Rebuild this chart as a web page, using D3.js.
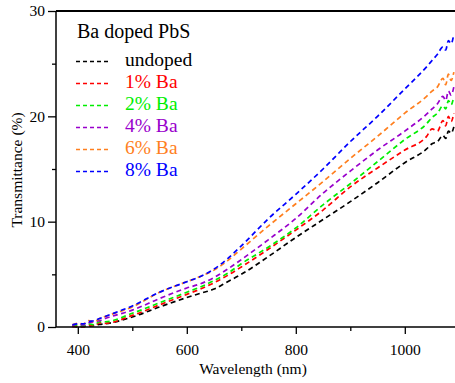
<!DOCTYPE html>
<html>
<head>
<meta charset="utf-8">
<script src="https://cdn.jsdelivr.net/npm/d3@7"></script>
<style>
  html, body { margin: 0; padding: 0; background: #fff; }
  svg { display: block; }
</style>
</head>
<body>
<svg id="chart" width="455" height="383"></svg>
<script>
const wavelengths = [390, 400, 410, 420, 430, 440, 450, 500, 550, 600, 625, 650, 675, 700, 750, 800, 850, 900, 950, 1000, 1040, 1050, 1060, 1070, 1075, 1080, 1085, 1090];

const undoped = [0.1, 0.0, 0.05, 0.1, 0.15, 0.25, 0.3, 0.95, 1.9, 2.8, 3.2, 3.6, 4.3, 5.0, 6.7, 8.5, 10.2, 11.9, 13.7, 15.6, 16.9, 17.4, 17.6, 18.2, 17.9, 18.6, 18.4, 19.0];
const ba1 = [0.0, 0.1, 0.0, 0.2, 0.1, 0.4, 0.35, 1.1, 2.1, 3.1, 3.6, 4.2, 4.9, 5.7, 7.4, 9.2, 11.1, 13.3, 15.1, 16.8, 18.1, 18.8, 18.6, 19.6, 19.1, 20.0, 19.5, 20.3];
const ba2 = [0.1, 0.2, 0.1, 0.3, 0.2, 0.5, 0.5, 1.3, 2.3, 3.3, 3.8, 4.4, 5.1, 6.0, 7.6, 9.4, 11.6, 13.6, 15.7, 17.8, 19.3, 19.9, 20.3, 21.0, 20.7, 21.5, 21.1, 21.9];
const ba4 = [0.1, 0.3, 0.2, 0.4, 0.5, 0.6, 0.8, 1.6, 2.7, 3.7, 4.1, 4.7, 5.5, 6.4, 8.3, 10.3, 12.7, 14.8, 16.8, 18.6, 20.2, 20.7, 21.2, 21.9, 21.5, 22.4, 22.0, 22.8];
const ba6 = [0.2, 0.35, 0.3, 0.6, 0.5, 0.8, 1.0, 1.9, 3.3, 4.3, 4.8, 5.4, 6.3, 7.4, 9.6, 11.7, 13.8, 16.0, 18.1, 20.3, 21.9, 22.4, 22.8, 23.6, 23.0, 24.0, 23.4, 24.2];
const ba8 = [0.2, 0.3, 0.3, 0.5, 0.6, 0.8, 1.0, 2.0, 3.3, 4.3, 4.8, 5.5, 6.5, 7.7, 10.3, 12.6, 15.0, 17.6, 20.0, 22.6, 24.7, 25.3, 25.9, 26.6, 26.3, 27.2, 26.9, 27.8];

const seriesNames = ["undoped", "1% Ba", "2% Ba", "4% Ba", "6% Ba", "8% Ba"];
const seriesColors = ["#000000", "#ff0000", "#00ee00", "#9900cc", "#ff7f1e", "#0000ff"];
const seriesValues = [undoped, ba1, ba2, ba4, ba6, ba8];

const xMajorTicks = [400, 600, 800, 1000];
const xMinorTicks = [500, 700, 900];
const yMajorTicks = [0, 10, 20, 30];
const yMinorTicks = [5, 15, 25];

const legendTitle = "Ba doped PbS";
const xTitle = "Wavelength (nm)";
const yTitle = "Transmittance (%)";

const FONT = '"Liberation Serif", "Times New Roman", serif';

const svg = d3.select("#chart");
const padL = 56, padT = 11, padB = 327;
const x = d3.scaleLinear().domain([360, 1100]).range([padL, 459.3]);
const y = d3.scaleLinear().domain([0, 30]).range([padB, padT]);

// data lines
const line = d3.line()
  .x(d => x(d[0]))
  .y(d => y(d[1]))
  .curve(d3.curveMonotoneX);

const plot = svg.append("g");
seriesValues.forEach((vals, i) => {
  const pts = wavelengths.map((w, j) => [w, vals[j]]);
  plot.append("path")
    .attr("d", line(pts))
    .attr("fill", "none")
    .attr("stroke", seriesColors[i])
    .attr("stroke-width", 1.7)
    .attr("stroke-dasharray", "5,3.5");
});

// axes
const xAxis = d3.axisBottom(x).tickValues(xMajorTicks).tickSize(7).tickPadding(10).tickFormat(d3.format("d"));
const xAxisMinor = d3.axisBottom(x).tickValues(xMinorTicks).tickSize(4).tickFormat("");
const yAxis = d3.axisLeft(y).tickValues(yMajorTicks).tickSize(8).tickPadding(3).tickFormat(d3.format("d"));
const yAxisMinor = d3.axisLeft(y).tickValues(yMinorTicks).tickSize(4).tickFormat("");

function styleAxis(g) {
  g.attr("font-family", FONT).attr("font-size", 15.5);
  g.select(".domain").attr("stroke", "#000").attr("stroke-width", 1.5);
  g.selectAll(".tick line").attr("stroke", "#000").attr("stroke-width", 1.3);
  g.selectAll(".tick text").attr("fill", "#000");
}

svg.append("g").attr("transform", `translate(0,${padB})`).call(xAxisMinor).call(g => { g.select(".domain").remove(); styleAxis(g); });
svg.append("g").attr("transform", `translate(0,${padB})`).call(xAxis).call(g => { styleAxis(g); g.select(".domain").attr("d", `M${padL},0H455`); });
svg.append("g").attr("transform", `translate(${padL},0)`).call(yAxisMinor).call(g => { g.select(".domain").remove(); styleAxis(g); });
svg.append("g").attr("transform", `translate(${padL},0)`).call(yAxis).call(g => { styleAxis(g); g.select(".domain").attr("d", `M0,${padB}V${padT}`); });

// top frame line
svg.append("line").attr("x1", padL).attr("x2", 455).attr("y1", padT).attr("y2", padT)
  .attr("stroke", "#000").attr("stroke-width", 1.8);

// axis titles
svg.append("text").attr("x", 253).attr("y", 374).attr("text-anchor", "middle")
  .attr("font-family", FONT).attr("font-size", 15.5).attr("fill", "#000").text(xTitle);
svg.append("text").attr("transform", "translate(22,170) rotate(-90)").attr("text-anchor", "middle")
  .attr("font-family", FONT).attr("font-size", 15.5).attr("fill", "#000").text(yTitle);

// legend
const legend = svg.append("g").attr("font-family", FONT).attr("font-size", 19.5);
legend.append("text").attr("x", 77).attr("y", 38).attr("font-size", 20).attr("fill", "#000").text(legendTitle);
seriesNames.forEach((name, i) => {
  const by = 66 + i * 22;
  legend.append("line").attr("x1", 76).attr("x2", 109).attr("y1", by - 4.5).attr("y2", by - 4.5)
    .attr("stroke", seriesColors[i]).attr("stroke-width", 1.5).attr("stroke-dasharray", "4,3");
  legend.append("text").attr("x", 125).attr("y", by)
    .attr("fill", seriesColors[i]).text(name);
});
</script>
</body>
</html>
